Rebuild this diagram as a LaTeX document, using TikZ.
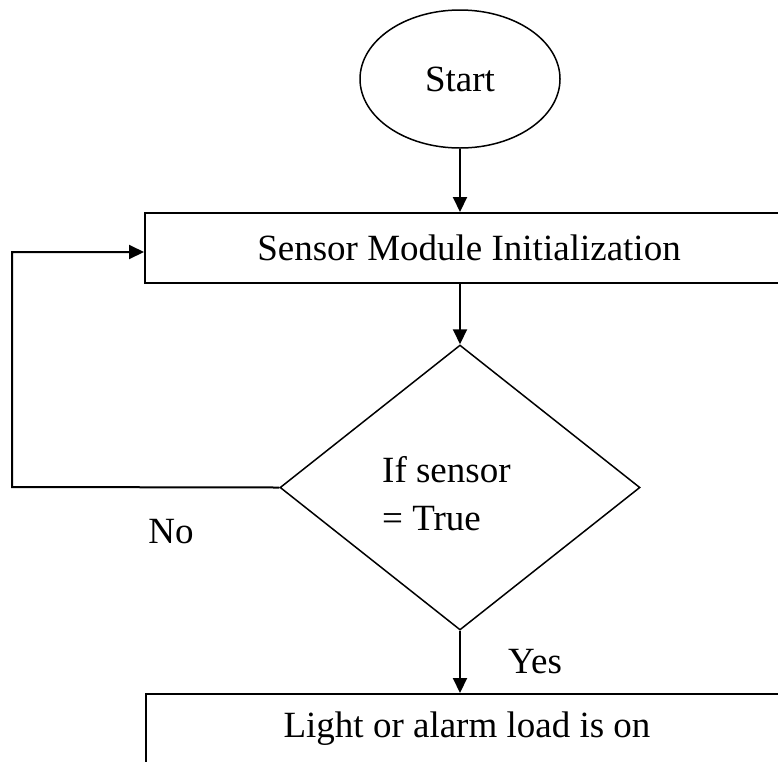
\documentclass[tikz,border=0pt]{standalone}
\usepackage{fontspec}
\setmainfont{Liberation Serif}
\usetikzlibrary{shapes.geometric,arrows.meta}
\begin{document}
\begin{tikzpicture}[x=1pt,y=-1pt,
  every node/.style={font=\fontsize{37}{44}\selectfont},
  procbox/.style={draw,line width=2pt,rectangle,inner sep=0pt},
  arr/.style={line width=2pt,-{Triangle[length=15pt,width=14pt]}},
  plain/.style={line width=1.6pt}]
\useasboundingbox (0,0) rectangle (778,761);
\clip (0,0) rectangle (778,761);
\node[draw,ellipse,line width=1.5pt,minimum width=200pt,minimum height=138pt,inner sep=0pt] (start) at (460,79) {Start};
\node[procbox,minimum width=648pt,minimum height=70pt] (box) at (469,248) {Sensor Module Initialization};
\node[draw,diamond,line width=1.5pt,minimum width=360pt,minimum height=285pt,inner sep=0pt] (dec) at (460,487.5) {};
\node[anchor=base west,inner sep=0pt] (dl1) at (382,482) {If sensor};
\node[anchor=base west,inner sep=0pt] (dl2) at (382,530) {= True};
\node[procbox,minimum width=642pt,minimum height=70pt] (bot) at (467,729) {Light or alarm load is on};
\node[anchor=base,inner sep=0pt] (no) at (171,543) {No};
\node[anchor=base,inner sep=0pt] (yes) at (535,673) {Yes};
\coordinate (lp) at (12,487);
\draw[arr] (start.south) -- (start.south |- box.north);
\draw[arr] (box.south -| dec.north) -- (dec.north);
\draw[arr] (dec.south) -- (dec.south |- bot.north);
\draw[arr] (dec.west) -- (lp) |- ([yshift=-4pt]box.west);
\end{tikzpicture}
\end{document}
